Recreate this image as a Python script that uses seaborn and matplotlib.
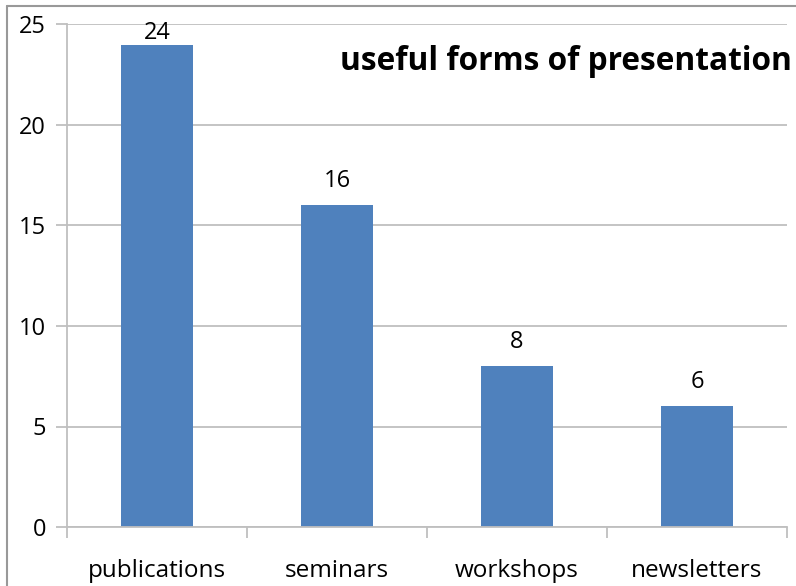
import matplotlib
matplotlib.use("Agg")
import matplotlib.pyplot as plt
from matplotlib.lines import Line2D
import seaborn as sns
import pandas as pd

# Survey results: which forms of presentation respondents found useful
categories = ["publications", "seminars", "workshops", "newsletters"]
counts = [24, 16, 8, 6]
y_ticks = [0, 5, 10, 15, 20, 25]
title_text = "useful forms of presentation"

df = pd.DataFrame({"form": categories, "count": counts})

sns.set_theme(style="white")
plt.rcParams["font.family"] = ["Open Sans", "DejaVu Sans"]

W, H = 796, 586
fig = plt.figure(figsize=(W / 100, H / 100), dpi=100)
ax = fig.add_axes([67 / W, 1 - 527 / H, (787 - 67) / W, (527 - 24.5) / H])

bar_color = "#4F81BD"
grid_color = "#BFBFBF"

sns.barplot(data=df, x="form", y="count", color=bar_color, width=0.405,
            saturation=1, ax=ax, zorder=3, edgecolor="none")

ax.set_ylim(0, 25)
ax.set_xlim(-0.5, len(categories) - 0.5)
ax.set_yticks(y_ticks)
ax.set_yticklabels([str(t) for t in y_ticks])
ax.yaxis.grid(True, color=grid_color, linewidth=1.3, zorder=0)
ax.xaxis.grid(False)
ax.set_xlabel("")
ax.set_ylabel("")

# Category boundaries carry the tick marks; names sit between them
ax.set_xticks([i - 0.5 for i in range(len(categories) + 1)])
ax.set_xticklabels([])
ax.set_xticks(range(len(categories)), minor=True)
ax.set_xticklabels(categories, minor=True)
ax.tick_params(axis="x", which="major", length=8, width=1.3, color=grid_color,
               direction="out", bottom=True)
ax.tick_params(axis="x", which="minor", length=0, pad=23, labelsize=17.5,
               labelcolor="black")
ax.tick_params(axis="y", length=8, width=1.3, color=grid_color, direction="out",
               left=True, pad=7, labelsize=17, labelcolor="black")

for side in ["top", "right"]:
    ax.spines[side].set_visible(False)
for side in ["left", "bottom"]:
    ax.spines[side].set_color(grid_color)
    ax.spines[side].set_linewidth(1.3)
ax.spines["bottom"].set_zorder(4)

# Value labels above each bar, kept inside the plot area
for i, v in enumerate(counts):
    ax.text(i, min(v + 1.2, 24.6), str(v), ha="center", va="center",
            fontsize=17, color="black", zorder=5)

fig.text(792 / W, 1 - 61 / H, title_text, ha="right", va="center",
         fontsize=22.8, fontweight="bold", color="black", zorder=5)

# Chart-area frame along the top and left edges
frame_color = "#999999"
fig.add_artist(Line2D([7 / W, 1], [1 - 6 / H, 1 - 6 / H], color=frame_color,
                      linewidth=1.5, transform=fig.transFigure))
fig.add_artist(Line2D([7 / W, 7 / W], [0, 1 - 6 / H], color=frame_color,
                      linewidth=1.5, transform=fig.transFigure))

fig.savefig("out.png", dpi=100)
